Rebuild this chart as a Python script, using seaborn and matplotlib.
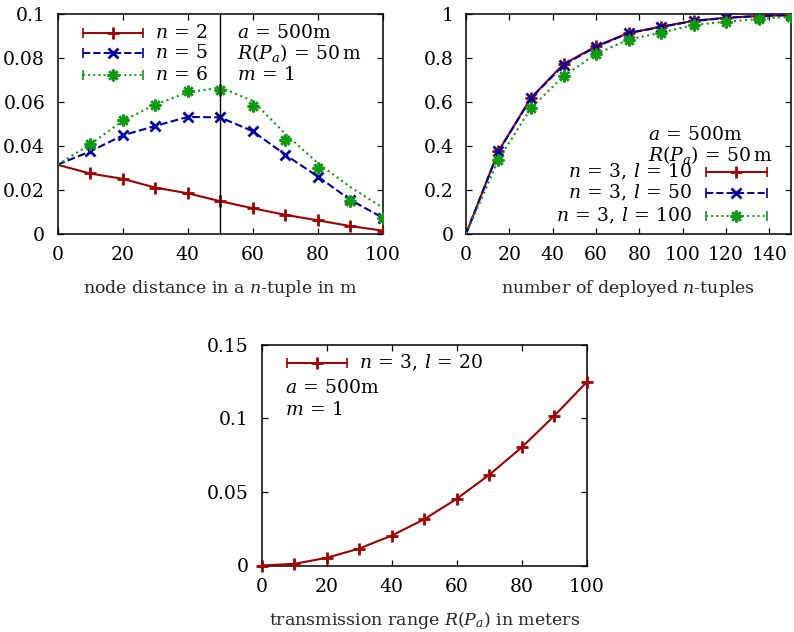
import matplotlib
matplotlib.use("Agg")
import matplotlib.pyplot as plt
import numpy as np
import pandas as pd
import seaborn as sns

# ---- data -------------------------------------------------------------
# (a) probability vs. node distance inside an n-tuple
dist = [0, 10, 20, 30, 40, 50, 60, 70, 80, 90, 100]
p_n2 = [0.0315, 0.0275, 0.0251, 0.0211, 0.0185, 0.0149, 0.0117, 0.0087, 0.0062, 0.0036, 0.0015]
p_n5 = [0.0315, 0.0375, 0.0448, 0.0491, 0.0532, 0.0530, 0.0467, 0.0360, 0.0261, 0.0155, 0.0073]
p_n6_model = [0.0315, 0.0407, 0.0514, 0.0588, 0.0644, 0.0666, 0.0605, 0.0455, 0.0322, 0.0213, 0.0119]
p_n6_sim = [0.0315, 0.0410, 0.0518, 0.0588, 0.0649, 0.0653, 0.0584, 0.0427, 0.0299, 0.0152, 0.0073]

# (b) probability vs. number of deployed n-tuples
tuples = [0, 15, 30, 45, 60, 75, 90, 105, 120, 135, 150]
p_l10 = [0.0, 0.377, 0.619, 0.772, 0.853, 0.914, 0.942, 0.969, 0.983, 0.991, 0.995]
p_l50 = [0.0, 0.375, 0.617, 0.768, 0.851, 0.913, 0.941, 0.968, 0.982, 0.991, 0.995]
p_l100 = [0.0, 0.337, 0.573, 0.717, 0.818, 0.884, 0.915, 0.950, 0.965, 0.977, 0.988]

# (c) probability vs. transmission range
radius = [0, 10, 20, 30, 40, 50, 60, 70, 80, 90, 100]
p_range = [0.0, 0.0011, 0.0052, 0.0115, 0.0203, 0.0314, 0.0453, 0.0616, 0.0803, 0.1017, 0.1247]

# ---- style ------------------------------------------------------------
RED = "#a00000"
BLUE = "#0000a0"
GREEN = "#109a10"
ASTER = (8, 2, 0)  # plus and cross combined
TXT = 13.5

sns.set_theme(style="ticks")
plt.rcParams.update({
    "font.family": ["DejaVu Serif"],
    "mathtext.fontset": "dejavuserif",
    "font.size": 12.5,
    "axes.linewidth": 1.1,
    "axes.edgecolor": "black",
    "xtick.direction": "in",
    "ytick.direction": "in",
    "xtick.top": True,
    "ytick.right": True,
    "xtick.major.size": 4.5,
    "ytick.major.size": 4.5,
    "xtick.major.width": 0.9,
    "ytick.major.width": 0.9,
    "xtick.major.pad": 9,
    "ytick.major.pad": 9,
    "xtick.labelsize": 13.5,
    "ytick.labelsize": 13.5,
    "axes.labelsize": 12.5,
    "text.color": "black",
    "xtick.color": "black",
    "ytick.color": "black",
})

W, H = 794, 632
fig = plt.figure(figsize=(W / 100, H / 100), dpi=100)


def box(x0, y0, x1, y1):
    return [x0 / W, 1 - y1 / H, (x1 - x0) / W, (y1 - y0) / H]


ax1 = fig.add_axes(box(57.5, 14, 383, 234))
ax2 = fig.add_axes(box(466, 14, 791, 234))
ax3 = fig.add_axes(box(261.5, 344.5, 587, 565.5))


def mk(kind, color):
    base = {
        "+": dict(marker="+", markersize=8, markeredgewidth=2.0),
        "x": dict(marker="x", markersize=6.5, markeredgewidth=2.0),
        "*": dict(marker=ASTER, markersize=8.5, markeredgewidth=1.8),
    }[kind]
    return dict(base, markeredgecolor=color, markerfacecolor=color)


def sample(ax, x0, x1, y, color, ls, kind):
    """Key entry: line with end caps and a marker in the middle."""
    t = ax.transAxes
    ax.plot([x0, x1], [y, y], color=color, linestyle=ls, lw=1.4,
            transform=t, clip_on=False)
    ax.plot([x0, x1], [y, y], linestyle="none", marker="|", markersize=7,
            markeredgewidth=1.2, color=color, transform=t, clip_on=False)
    ax.plot([(x0 + x1) / 2], [y], linestyle="none", color=color,
            transform=t, clip_on=False, **mk(kind, color))


def note(ax, x, y, s, ha="left"):
    ax.text(x, y, s, transform=ax.transAxes, va="center", ha=ha, fontsize=TXT)


EQ = "\\,=\\,"

# ---- (a) --------------------------------------------------------------
df1 = pd.DataFrame({"d": dist, "n2": p_n2, "n5": p_n5,
                    "n6m": p_n6_model, "n6s": p_n6_sim})
sns.lineplot(data=df1, x="d", y="n2", ax=ax1, color=RED, lw=1.5,
             markevery=slice(1, None), estimator=None, **mk("+", RED))
sns.lineplot(data=df1, x="d", y="n5", ax=ax1, color=BLUE, lw=1.5,
             linestyle="--", markevery=slice(1, None), estimator=None,
             **mk("x", BLUE))
sns.lineplot(data=df1, x="d", y="n6m", ax=ax1, color=GREEN, lw=1.5,
             linestyle=":", estimator=None)
sns.lineplot(data=df1.iloc[1:], x="d", y="n6s", ax=ax1, color=GREEN,
             linestyle="none", estimator=None, **mk("*", GREEN))
ax1.axvline(50, color="black", lw=1.0)
ax1.set_xlim(0, 100)
ax1.set_ylim(0, 0.1)
ax1.set_xticks([0, 20, 40, 60, 80, 100])
ax1.set_yticks([0, 0.02, 0.04, 0.06, 0.08, 0.1])
ax1.set_yticklabels(["0", "0.02", "0.04", "0.06", "0.08", "0.1"])
ax1.set_xlabel("node distance in a $n$-tuple in m", labelpad=10)
ax1.set_ylabel("")

rows1 = [0.914, 0.823, 0.723]
for y, c, ls, kind, lab in zip(rows1, [RED, BLUE, GREEN], ["-", "--", ":"],
                               ["+", "x", "*"],
                               [f"$n{EQ}2$", f"$n{EQ}5$", f"$n{EQ}6$"]):
    sample(ax1, 0.078, 0.262, y, c, ls, kind)
    note(ax1, 0.30, y, lab)
for y, lab in zip(rows1, [f"$a{EQ}500\\mathrm{{m}}$",
                          f"$R(P_a){EQ}50\\,\\mathrm{{m}}$",
                          f"$m{EQ}1$"]):
    note(ax1, 0.551, y, lab)

# ---- (b) --------------------------------------------------------------
df2 = pd.DataFrame({"k": tuples, "l10": p_l10, "l50": p_l50, "l100": p_l100})
sns.lineplot(data=df2, x="k", y="l10", ax=ax2, color=RED, lw=1.5,
             markevery=slice(1, None), estimator=None, **mk("+", RED))
sns.lineplot(data=df2, x="k", y="l50", ax=ax2, color=BLUE, lw=1.5,
             linestyle="--", markevery=slice(1, None), estimator=None,
             **mk("x", BLUE))
sns.lineplot(data=df2, x="k", y="l100", ax=ax2, color=GREEN, lw=1.5,
             linestyle=":", markevery=slice(1, None), estimator=None,
             **mk("*", GREEN))
ax2.set_xlim(0, 150)
ax2.set_ylim(0, 1)
ax2.set_xticks([0, 20, 40, 60, 80, 100, 120, 140])
ax2.set_yticks([0, 0.2, 0.4, 0.6, 0.8, 1])
ax2.set_yticklabels(["0", "0.2", "0.4", "0.6", "0.8", "1"])
ax2.set_xlabel("number of deployed $n$-tuples", labelpad=10)
ax2.set_ylabel("")

note(ax2, 0.56, 0.45, f"$a{EQ}500\\mathrm{{m}}$")
note(ax2, 0.56, 0.359, f"$R(P_a){EQ}50\\,\\mathrm{{m}}$")
rows2 = [0.282, 0.186, 0.082]
for y, c, ls, kind, lab in zip(rows2, [RED, BLUE, GREEN], ["-", "--", ":"],
                               ["+", "x", "*"],
                               [f"$n{EQ}3,\\, l{EQ}10$", f"$n{EQ}3,\\, l{EQ}50$",
                                f"$n{EQ}3,\\, l{EQ}100$"]):
    sample(ax2, 0.738, 0.926, y, c, ls, kind)
    note(ax2, 0.698, y, lab, ha="right")

# ---- (c) --------------------------------------------------------------
df3 = pd.DataFrame({"r": radius, "p": p_range})
sns.lineplot(data=df3, x="r", y="p", ax=ax3, color=RED, lw=1.5,
             estimator=None, clip_on=False, **mk("+", RED))
ax3.set_xlim(0, 100)
ax3.set_ylim(0, 0.15)
ax3.set_xticks([0, 20, 40, 60, 80, 100])
ax3.set_yticks([0, 0.05, 0.1, 0.15])
ax3.set_yticklabels(["0", "0.05", "0.1", "0.15"])
ax3.set_xlabel("transmission range $R(P_a)$ in meters", labelpad=10)
ax3.set_ylabel("")

sample(ax3, 0.078, 0.263, 0.916, RED, "-", "+")
note(ax3, 0.30, 0.916, f"$n{EQ}3,\\, l{EQ}20$")
note(ax3, 0.072, 0.803, f"$a{EQ}500\\mathrm{{m}}$")
note(ax3, 0.072, 0.703, f"$m{EQ}1$")

for ax in (ax1, ax2, ax3):
    ax.tick_params(which="both", top=True, right=True)
    for s in ax.spines.values():
        s.set_zorder(1.5)

fig.savefig("out.png", dpi=100)
